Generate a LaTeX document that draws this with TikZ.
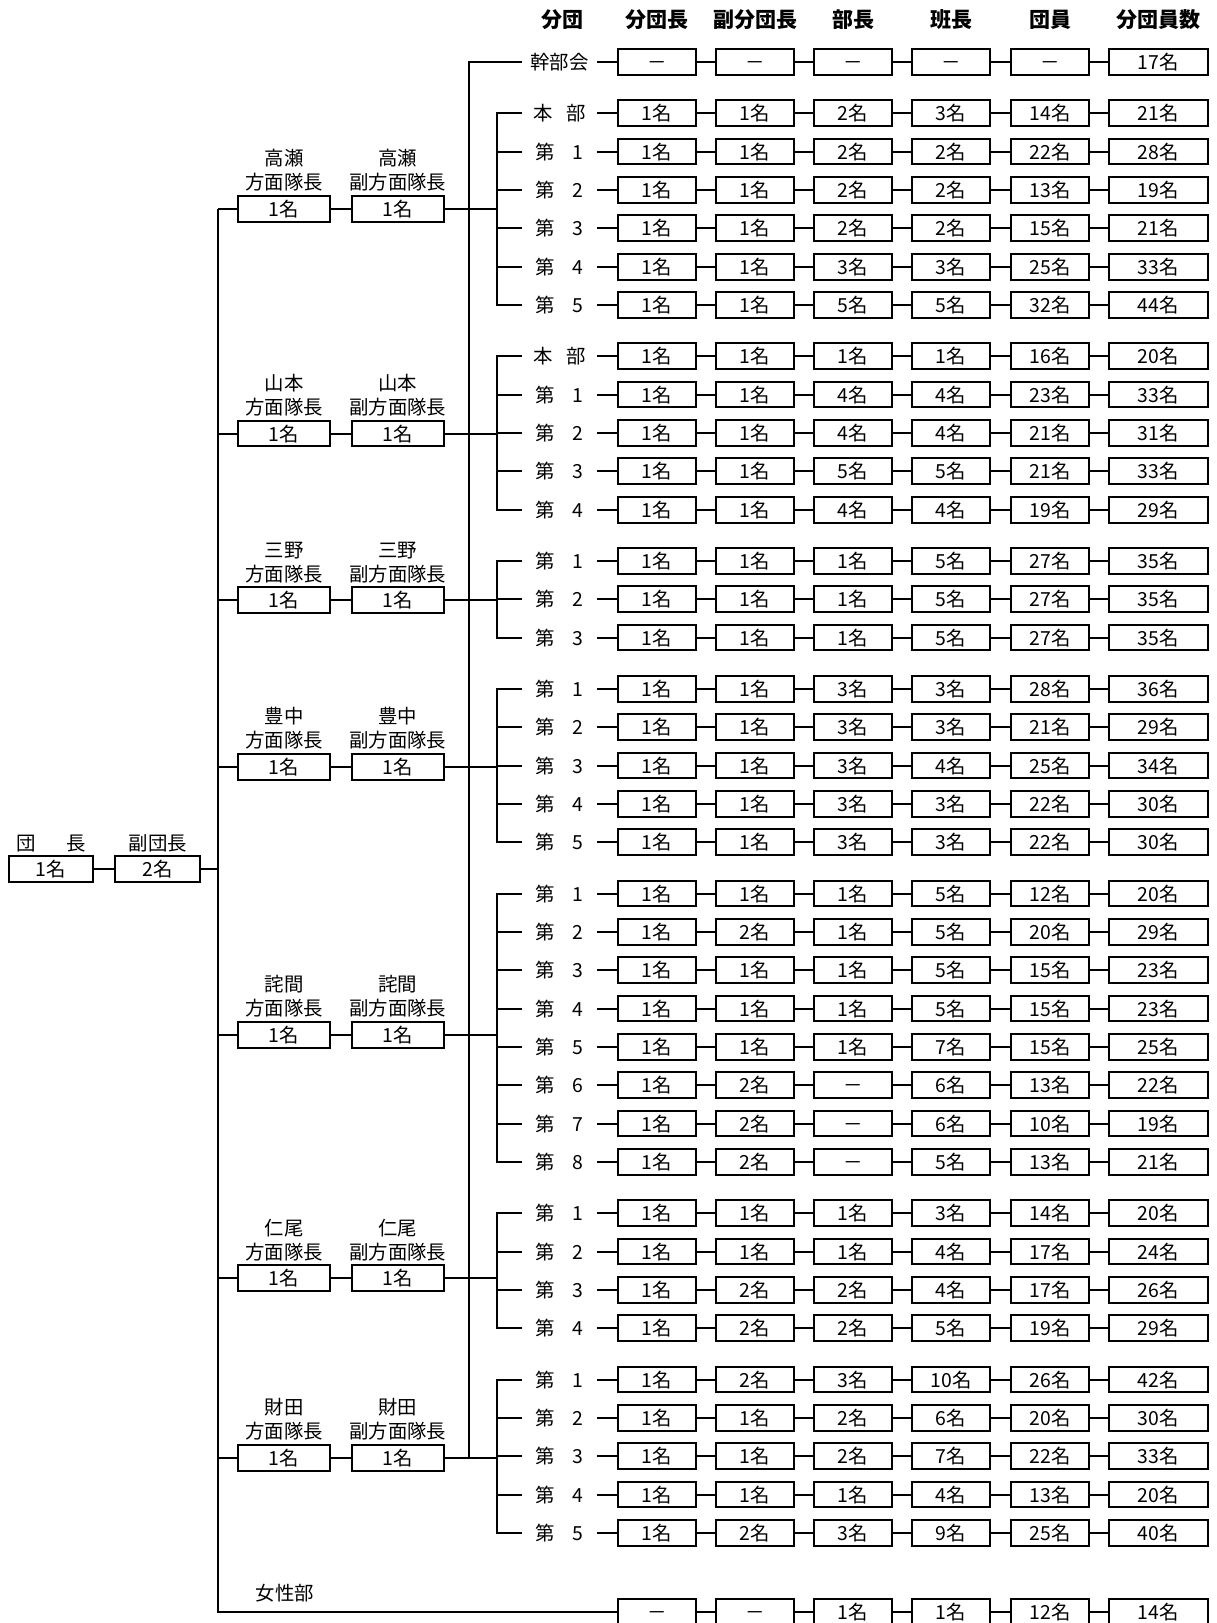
\documentclass[tikz,border=0pt]{standalone}
\usepackage{fontspec}
\setmainfont{Noto Sans CJK JP}
\usetikzlibrary{positioning,calc}
\tikzset{
  sen/.style={line width=1pt},
  hako/.style={draw,line width=1pt,minimum width=39.25pt,minimum height=12.85pt,inner sep=0pt,
               text height=0.88em,text depth=0.12em},
  hhako/.style={hako,minimum width=46pt},
  dhako/.style={hako,minimum width=42.4pt},
  bunlbl/.style={minimum width=37.5pt,minimum height=12.85pt,inner sep=0pt,text height=0.88em,text depth=0.12em},
  ue/.style={align=center,inner sep=0pt},
  midasi/.style={font=\fontsize{10.5}{12}\selectfont\bfseries},
}
% boxes of one row: #1 row id, #2 y, #3 values
\newcommand\hakoretsu[3]{%
  \foreach \v [count=\c] in {#3} {
    \pgfmathsetmacro\bx{{657,755,853,951,1050,1158}[\c-1]}
    \pgfmathsetmacro\bw{\c==6 ? 49.5 : 39.25}
    \node[hako,minimum width=\bw pt] (r#1-\c) at (\bx,#2) {\v};
  }
  \foreach \a [evaluate=\a as \b using int(\a+1)] in {1,...,5}
    \draw[sen] (r#1-\a.east) -- (r#1-\b.west);
}
% one bundan row: #1 row no., #2 group no., #3 label, #4 values
\newcommand\bunrow[4]{%
  \pgfmathsetmacro\ry{62+38.35*#1+12.9*#2}
  \node[bunlbl] (l#1) at (559.5,\ry) {#3};
  \hakoretsu{#1}{\ry}{#4}
  \draw[sen] (l#1.east) -- (r#1-1.west);
}
% one homentai: #1 id, #2 name, #3 y, #4 first row, #5 last row
\newcommand\homen[5]{%
  \node[hhako] (m#1) at (284,#3) {1名};
  \node[hhako,right=9.85pt of m#1] (s#1) {1名};
  \node[ue,above=1.5pt of m#1] (mt#1) {#2\\方面隊長};
  \node[ue,above=1.5pt of s#1] (st#1) {#2\\副方面隊長};
  \draw[sen] (m#1.east) -- (s#1.west);
  \draw[sen] (l#4.west) -- ++(-25,0) coordinate (b#1) |- (l#5.west);
  \foreach \k in {#4,...,#5} \draw[sen] (l\k.west) -- ++(-25,0);
  \draw[sen] (s#1.east) -- (s#1.east -| b#1);
  \draw[sen] (m#1.west) -- (m#1.west -| miki);
}
\begin{document}
\begin{tikzpicture}[x=0.5pt,y=-0.5pt,font=\fontsize{9.7}{12}\selectfont]
  \useasboundingbox (0,0) rectangle (1216,1623);
  \coordinate (miki) at (218,0);
  % header
  \foreach \t/\x in {分団/562,分団長/657,副分団長/755,部長/853,班長/951,団員/1050,分団員数/1158}
    \node[midasi] (h\x) at (\x,20) {\t};
  % rows
  \bunrow{0}{0}{幹部会}{－,－,－,－,－,17名}
  \bunrow{1}{1}{本\hspace{0.7em}部}{1名,1名,2名,3名,14名,21名}
  \bunrow{2}{1}{第\hspace{0.9em}1}{1名,1名,2名,2名,22名,28名}
  \bunrow{3}{1}{第\hspace{0.9em}2}{1名,1名,2名,2名,13名,19名}
  \bunrow{4}{1}{第\hspace{0.9em}3}{1名,1名,2名,2名,15名,21名}
  \bunrow{5}{1}{第\hspace{0.9em}4}{1名,1名,3名,3名,25名,33名}
  \bunrow{6}{1}{第\hspace{0.9em}5}{1名,1名,5名,5名,32名,44名}
  \bunrow{7}{2}{本\hspace{0.7em}部}{1名,1名,1名,1名,16名,20名}
  \bunrow{8}{2}{第\hspace{0.9em}1}{1名,1名,4名,4名,23名,33名}
  \bunrow{9}{2}{第\hspace{0.9em}2}{1名,1名,4名,4名,21名,31名}
  \bunrow{10}{2}{第\hspace{0.9em}3}{1名,1名,5名,5名,21名,33名}
  \bunrow{11}{2}{第\hspace{0.9em}4}{1名,1名,4名,4名,19名,29名}
  \bunrow{12}{3}{第\hspace{0.9em}1}{1名,1名,1名,5名,27名,35名}
  \bunrow{13}{3}{第\hspace{0.9em}2}{1名,1名,1名,5名,27名,35名}
  \bunrow{14}{3}{第\hspace{0.9em}3}{1名,1名,1名,5名,27名,35名}
  \bunrow{15}{4}{第\hspace{0.9em}1}{1名,1名,3名,3名,28名,36名}
  \bunrow{16}{4}{第\hspace{0.9em}2}{1名,1名,3名,3名,21名,29名}
  \bunrow{17}{4}{第\hspace{0.9em}3}{1名,1名,3名,4名,25名,34名}
  \bunrow{18}{4}{第\hspace{0.9em}4}{1名,1名,3名,3名,22名,30名}
  \bunrow{19}{4}{第\hspace{0.9em}5}{1名,1名,3名,3名,22名,30名}
  \bunrow{20}{5}{第\hspace{0.9em}1}{1名,1名,1名,5名,12名,20名}
  \bunrow{21}{5}{第\hspace{0.9em}2}{1名,2名,1名,5名,20名,29名}
  \bunrow{22}{5}{第\hspace{0.9em}3}{1名,1名,1名,5名,15名,23名}
  \bunrow{23}{5}{第\hspace{0.9em}4}{1名,1名,1名,5名,15名,23名}
  \bunrow{24}{5}{第\hspace{0.9em}5}{1名,1名,1名,7名,15名,25名}
  \bunrow{25}{5}{第\hspace{0.9em}6}{1名,2名,－,6名,13名,22名}
  \bunrow{26}{5}{第\hspace{0.9em}7}{1名,2名,－,6名,10名,19名}
  \bunrow{27}{5}{第\hspace{0.9em}8}{1名,2名,－,5名,13名,21名}
  \bunrow{28}{6}{第\hspace{0.9em}1}{1名,1名,1名,3名,14名,20名}
  \bunrow{29}{6}{第\hspace{0.9em}2}{1名,1名,1名,4名,17名,24名}
  \bunrow{30}{6}{第\hspace{0.9em}3}{1名,2名,2名,4名,17名,26名}
  \bunrow{31}{6}{第\hspace{0.9em}4}{1名,2名,2名,5名,19名,29名}
  \bunrow{32}{7}{第\hspace{0.9em}1}{1名,2名,3名,10名,26名,42名}
  \bunrow{33}{7}{第\hspace{0.9em}2}{1名,1名,2名,6名,20名,30名}
  \bunrow{34}{7}{第\hspace{0.9em}3}{1名,1名,2名,7名,22名,33名}
  \bunrow{35}{7}{第\hspace{0.9em}4}{1名,1名,1名,4名,13名,20名}
  \bunrow{36}{7}{第\hspace{0.9em}5}{1名,2名,3名,9名,25名,40名}
  % homentai
  \homen{1}{高瀬}{208.7}{1}{6}
  \homen{2}{山本}{433.6}{7}{11}
  \homen{3}{三野}{600.2}{12}{14}
  \homen{4}{豊中}{766.8}{15}{19}
  \homen{5}{詫間}{1034.8}{20}{27}
  \homen{6}{仁尾}{1278}{28}{31}
  \homen{7}{財田}{1457.7}{32}{36}
  \draw[sen] (l0.west) -- ++(-53,0) coordinate (kb) -- (kb |- s7.east);
  % danchou
  \node[dhako] (dan) at (51,869) {1名};
  \node[dhako,right=10pt of dan] (fukudan) {2名};
  \node[ue,above=1.5pt of dan] (dant) {団\hspace{1.6em}長};
  \node[ue,above=1.5pt of fukudan] (fukudant) {副団長};
  \draw[sen] (dan.east) -- (fukudan.west);
  \draw[sen] (fukudan.east) -- (fukudan.east -| miki);
  % joseibu
  \node (jot) at (285,1593) {女性部};
  \hakoretsu{jo}{1612}{－,－,1名,1名,12名,14名}
  \draw[sen] (m1.west -| miki) -- (miki |- rjo-1.west) -- (rjo-1.west);
\end{tikzpicture}
\end{document}
